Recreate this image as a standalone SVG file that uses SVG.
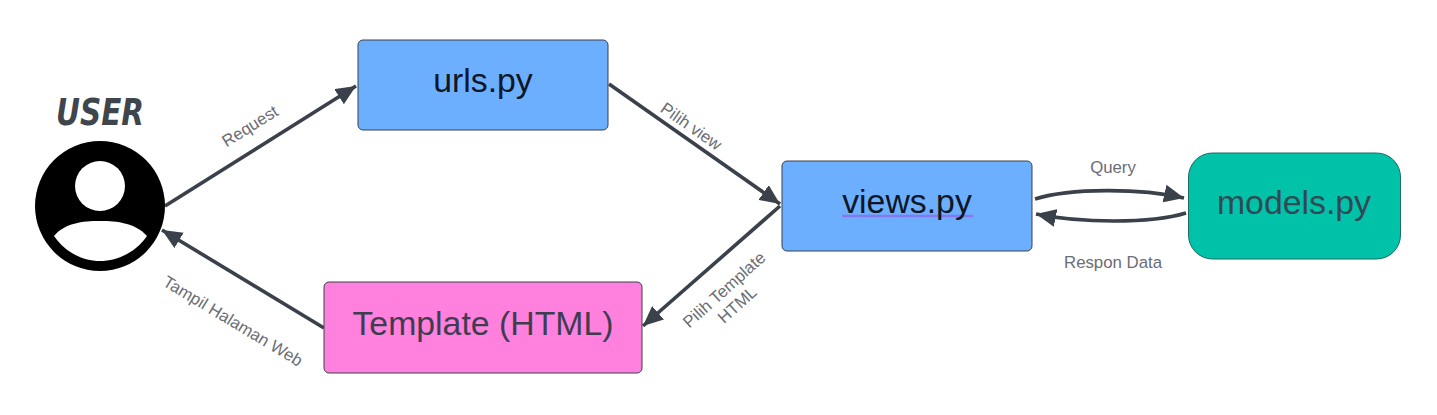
<svg xmlns="http://www.w3.org/2000/svg" width="1437" height="415" viewBox="0 0 1437 415">
<style>
text{font-family:"Liberation Sans",Arial,sans-serif;text-anchor:middle}
.box{stroke:#3a414a;stroke-width:1}
.title{font-size:33.8px;fill:#282c33}
.lbl{font-size:16.8px;fill:#6a6d75}
.c{fill:none;stroke:#3a414a;stroke-width:3.6}
</style>
<defs>
<marker id="a" markerUnits="userSpaceOnUse" markerWidth="22" markerHeight="18" refX="20" refY="9" orient="auto"><path d="M0 0L20 9L0 18Z" fill="#3a414a"/></marker>
</defs>
<rect width="1437" height="415" fill="#fff"/>
<g id="connectors">
<path class="c" marker-end="url(#a)" d="M165 206L356 86"/>
<path class="c" marker-end="url(#a)" d="M609 84L780 204"/>
<path class="c" marker-end="url(#a)" d="M780 206L643 326"/>
<path class="c" marker-end="url(#a)" d="M324 328L162 230"/>
<path class="c" marker-end="url(#a)" d="M1035 199C1070 188 1140 188 1184 198"/>
<path class="c" marker-end="url(#a)" d="M1186 213C1150 224 1080 223 1036 214"/>
<text class="lbl" transform="translate(253 131) rotate(-32)">Request</text>
<text class="lbl" transform="translate(688 131) rotate(35)">Pilih view</text>
<text class="lbl" transform="translate(230 326) rotate(31)">Tampil Halaman Web</text>
<text class="lbl" transform="translate(728 294) rotate(-42)">Pilih Template</text>
<text class="lbl" transform="translate(741 309) rotate(-42)">HTML</text>
<text class="lbl" x="1113" y="173">Query</text>
<text class="lbl" x="1113" y="268">Respon Data</text>
</g>
<g id="user">
<text x="100" y="125" style="font-family:'DejaVu Sans',sans-serif;font-size:37px;font-weight:bold;font-style:italic;fill:#3f454d" textLength="88" lengthAdjust="spacingAndGlyphs">USER</text>
<circle cx="100" cy="206" r="65" fill="#000"/>
<circle cx="100" cy="186" r="25" fill="#fff"/>
<path d="M54 236C65 223 82 221 100 221C118 221 135 223 147 236C136 252 118 261 100 261C82 261 65 252 54 236Z" fill="#fff"/>
</g>
<g id="urls">
<rect class="box" x="358" y="40" width="250" height="90" rx="5" fill="#6cafff"/>
<text class="title" x="483" y="92" style="fill:#0f1624">urls.py</text>
</g>
<g id="views">
<rect class="box" x="782" y="161" width="250" height="90" rx="5" fill="#6cafff"/>
<path d="M842 216H973" stroke="#8878f0" stroke-width="2.5" fill="none"/>
<text class="title" x="907" y="213" style="fill:#0f1624">views.py</text>
</g>
<g id="template">
<rect class="box" x="324" y="282" width="318" height="91" rx="5" fill="#ff80dd"/>
<text class="title" x="483" y="335" style="fill:#3e3d50">Template (HTML)</text>
</g>
<g id="models">
<rect x="1188.500" y="153" width="212" height="106" rx="24" fill="#00c2a8" stroke="#1f6b62"/>
<text class="title" x="1294" y="214" style="fill:#2f4a55">models.py</text>
</g>
</svg>
